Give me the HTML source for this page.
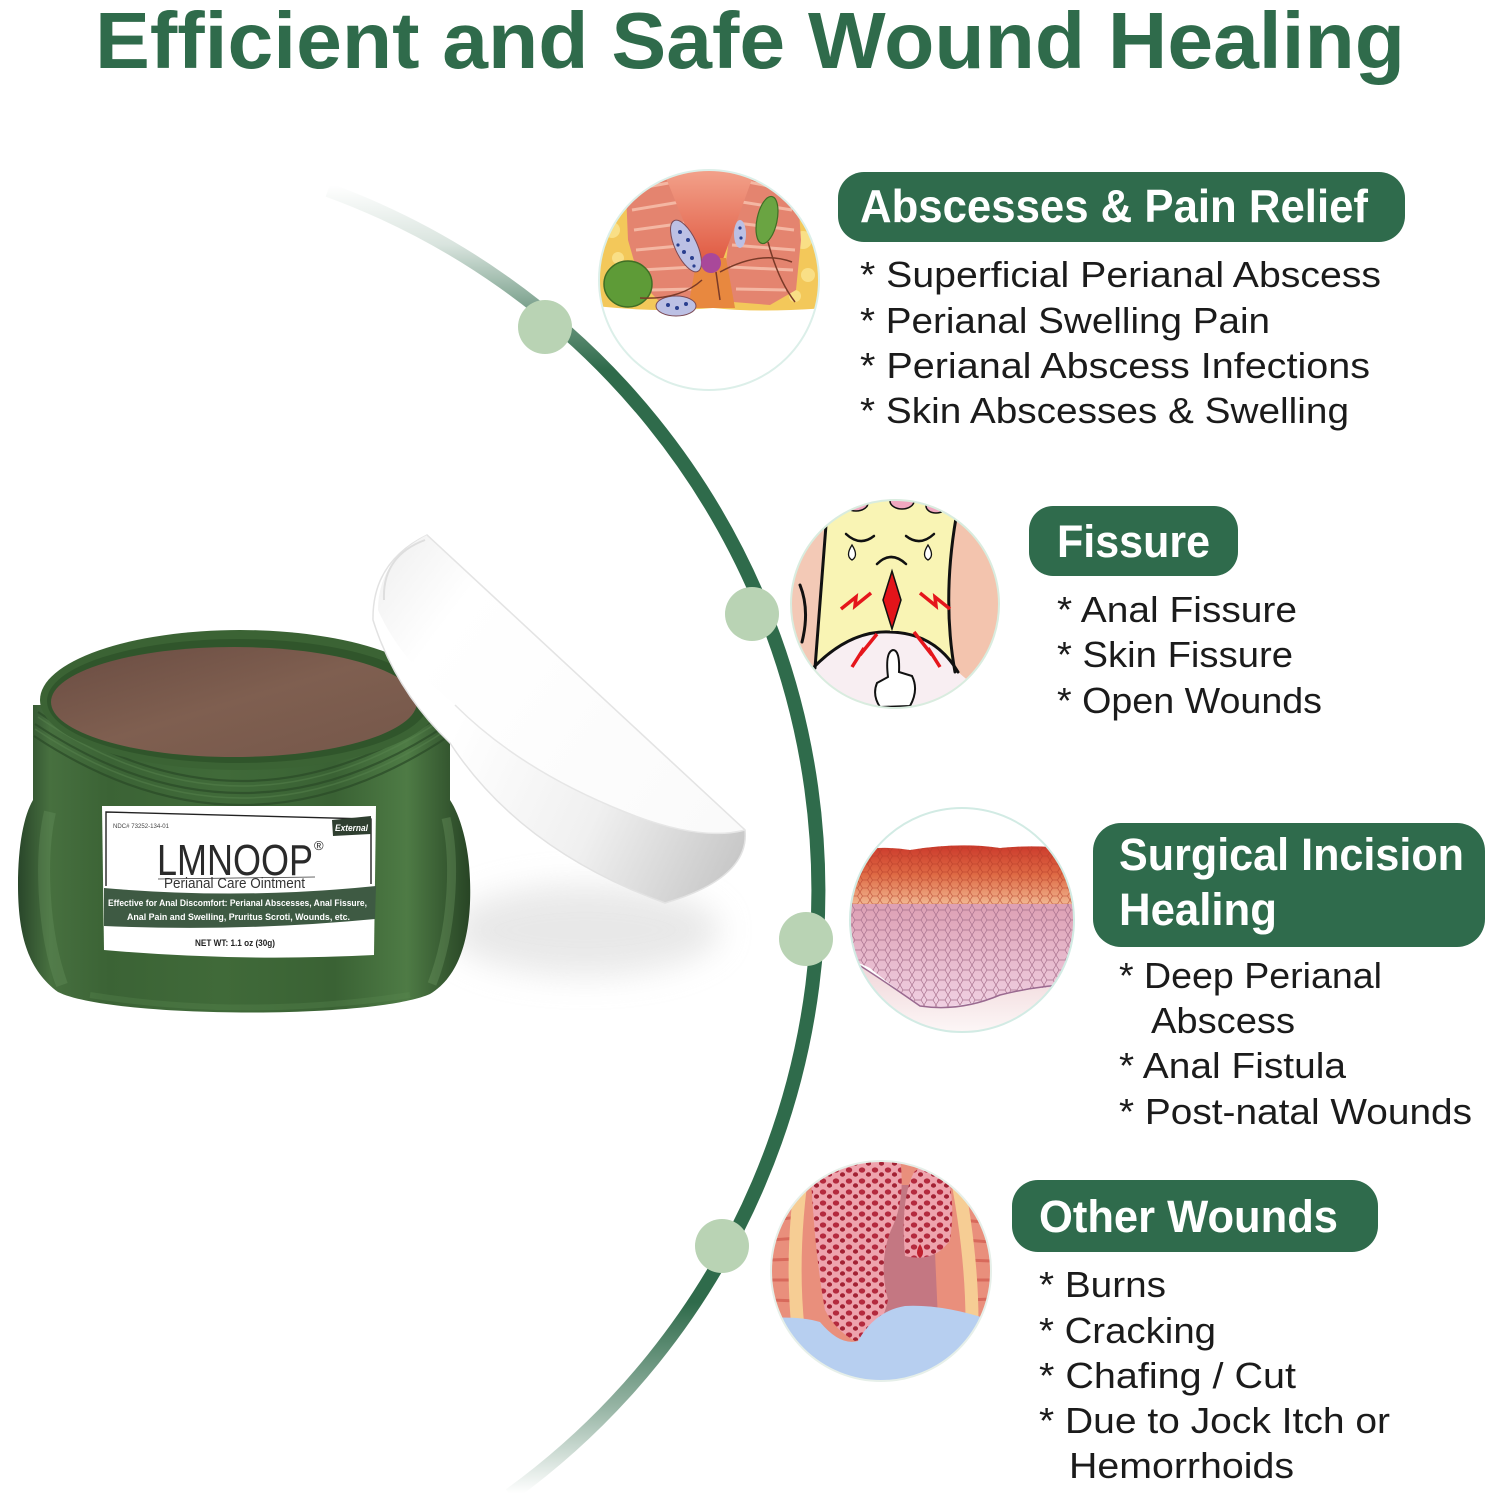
<!DOCTYPE html>
<html>
<head>
<meta charset="utf-8">
<style>
html,body{margin:0;padding:0;background:#fff;}
svg{display:block;}
text{font-family:"Liberation Sans",Arial,sans-serif;}
</style>
</head>
<body>
<svg xmlns="http://www.w3.org/2000/svg" width="1491" height="1500" viewBox="0 0 1491 1500">
<defs>
  <linearGradient id="arcG" gradientUnits="userSpaceOnUse" x1="0" y1="185" x2="0" y2="1500">
    <stop offset="0" stop-color="#2f6b4b" stop-opacity="0"/>
    <stop offset="0.045" stop-color="#2f6b4b" stop-opacity="0.18"/>
    <stop offset="0.10" stop-color="#2f6b4b" stop-opacity="0.7"/>
    <stop offset="0.14" stop-color="#2f6b4b" stop-opacity="1"/>
    <stop offset="0.85" stop-color="#2f6b4b" stop-opacity="1"/>
    <stop offset="0.93" stop-color="#2f6b4b" stop-opacity="0.5"/>
    <stop offset="0.995" stop-color="#2f6b4b" stop-opacity="0"/>
  </linearGradient>
  <linearGradient id="jarG" x1="0" x2="1" y1="0" y2="0">
    <stop offset="0" stop-color="#29462a"/>
    <stop offset="0.07" stop-color="#47703f"/>
    <stop offset="0.2" stop-color="#3b6335"/>
    <stop offset="0.45" stop-color="#406a39"/>
    <stop offset="0.7" stop-color="#3a6234"/>
    <stop offset="0.86" stop-color="#4e7b45"/>
    <stop offset="1" stop-color="#284525"/>
  </linearGradient>
  <linearGradient id="ointG" x1="0" y1="0" x2="1" y2="1">
    <stop offset="0" stop-color="#6a4c42"/>
    <stop offset="0.5" stop-color="#7f5f50"/>
    <stop offset="1" stop-color="#75574a"/>
  </linearGradient>
  <linearGradient id="lidBand" gradientUnits="userSpaceOnUse" x1="450" y1="740" x2="745" y2="880">
    <stop offset="0" stop-color="#ffffff"/>
    <stop offset="0.5" stop-color="#f0f0f0"/>
    <stop offset="1" stop-color="#c4c4c4"/>
  </linearGradient>
  <linearGradient id="lidFace" gradientUnits="userSpaceOnUse" x1="380" y1="560" x2="740" y2="830">
    <stop offset="0" stop-color="#f1f1f1"/>
    <stop offset="0.2" stop-color="#ffffff"/>
    <stop offset="1" stop-color="#fafafa"/>
  </linearGradient>
  <linearGradient id="coneG" x1="0" y1="0" x2="0" y2="1">
    <stop offset="0" stop-color="#f3a38c"/>
    <stop offset="1" stop-color="#e05a42"/>
  </linearGradient>
  <linearGradient id="redG" x1="0" y1="0" x2="0" y2="1">
    <stop offset="0" stop-color="#cc3a2c"/>
    <stop offset="0.5" stop-color="#de6a44"/>
    <stop offset="1" stop-color="#f1b690"/>
  </linearGradient>
  <linearGradient id="pinkG" x1="0" y1="0" x2="0" y2="1">
    <stop offset="0" stop-color="#dc9db1"/>
    <stop offset="1" stop-color="#f0d0e2"/>
  </linearGradient>
  <linearGradient id="skinB" x1="0" y1="0" x2="0" y2="1">
    <stop offset="0" stop-color="#efd3d6"/>
    <stop offset="1" stop-color="#fdf8f8"/>
  </linearGradient>
  <pattern id="cells" width="12" height="10" patternUnits="userSpaceOnUse">
    <path d="M0,5 L3,0 L9,0 L12,5 L9,10 L3,10 Z" fill="none" stroke="#a66f8c" stroke-width="0.7"/>
  </pattern>
  <pattern id="cellsR" width="10" height="8" patternUnits="userSpaceOnUse">
    <path d="M0,4 L2.5,0 L7.5,0 L10,4 L7.5,8 L2.5,8 Z" fill="none" stroke="#b23a28" stroke-width="0.8"/>
  </pattern>
  <pattern id="pores" width="13" height="11" patternUnits="userSpaceOnUse">
    <rect width="13" height="11" fill="#eea3ad"/>
    <ellipse cx="4" cy="4" rx="3.2" ry="2.6" fill="#b42a3e"/>
    <ellipse cx="10.5" cy="8.5" rx="2.6" ry="2.2" fill="#a32234"/>
  </pattern>
  <clipPath id="c1"><circle cx="709" cy="280" r="110"/></clipPath>
  <clipPath id="c2"><circle cx="895" cy="604" r="104"/></clipPath>
  <clipPath id="c3"><circle cx="962" cy="920" r="112"/></clipPath>
  <clipPath id="c4"><circle cx="881" cy="1271" r="110"/></clipPath>
  <filter id="blur" x="-50%" y="-50%" width="200%" height="200%"><feGaussianBlur stdDeviation="16"/></filter>
</defs>

<rect width="1491" height="1500" fill="#ffffff"/>

<!-- Title -->
<text x="95" y="68" font-size="80" font-weight="bold" fill="#2f6b4b" textLength="1310" lengthAdjust="spacingAndGlyphs">Efficient and Safe Wound Healing</text>

<!-- Arc -->
<path d="M328,190 A746,746 0 0 1 510,1495" fill="none" stroke="url(#arcG)" stroke-width="14"/>

<!-- Dots -->
<circle cx="545" cy="327" r="27" fill="#b9d3b4"/>
<circle cx="752" cy="614" r="27" fill="#b9d3b4"/>
<circle cx="806" cy="939" r="27" fill="#b9d3b4"/>
<circle cx="722" cy="1246" r="27" fill="#b9d3b4"/>

<!-- Illustration 1 -->
<g clip-path="url(#c1)">
  <rect x="595" y="165" width="230" height="230" fill="#ffffff"/>
  <path d="M595,165 H825 V308 Q760,313 713,308 Q660,313 595,306 Z" fill="#f3c85a"/>
  <circle cx="612" cy="230" r="8" fill="#f9df86"/>
  <circle cx="618" cy="258" r="6" fill="#f9df86"/>
  <circle cx="608" cy="200" r="5" fill="#f9df86"/>
  <circle cx="803" cy="240" r="9" fill="#f9df86"/>
  <circle cx="808" cy="275" r="7" fill="#f9df86"/>
  <circle cx="795" cy="296" r="6" fill="#f9df86"/>
  <path d="M625,168 L682,168 L702,262 L696,302 L660,302 L640,282 L628,240 Z" fill="#e4846f"/>
  <g stroke="#f4b7a3" stroke-width="3" fill="none">
    <path d="M630,190 L674,182"/><path d="M632,210 L680,202"/><path d="M634,230 L685,223"/>
    <path d="M636,250 L690,245"/><path d="M641,270 L694,267"/><path d="M650,290 L694,289"/>
  </g>
  <path d="M738,168 L796,168 L801,240 L796,290 L770,305 L733,302 L726,262 Z" fill="#e4846f"/>
  <g stroke="#f4b7a3" stroke-width="3" fill="none">
    <path d="M790,190 L748,182"/><path d="M792,210 L742,202"/><path d="M794,230 L737,223"/>
    <path d="M795,250 L732,245"/><path d="M793,270 L730,267"/><path d="M786,290 L736,289"/>
  </g>
  <path d="M662,168 L756,168 L722,262 L700,262 Z" fill="url(#coneG)"/>
  <path d="M697,258 L726,258 L735,308 L688,308 Z" fill="#e8883f"/>
  <ellipse cx="686" cy="246" rx="11" ry="28" transform="rotate(-25 686 246)" fill="#bcc0e4" stroke="#7b4a55" stroke-width="1"/>
  <g fill="#2a3f8f">
    <circle cx="680" cy="232" r="2"/><circle cx="688" cy="240" r="2"/><circle cx="684" cy="252" r="2"/>
    <circle cx="692" cy="258" r="2"/><circle cx="678" cy="245" r="1.6"/><circle cx="694" cy="266" r="1.6"/>
  </g>
  <ellipse cx="676" cy="306" rx="20" ry="10" fill="#bcc0e4" stroke="#7b4a55" stroke-width="1"/>
  <g fill="#2a3f8f"><circle cx="668" cy="305" r="2"/><circle cx="677" cy="308" r="2"/><circle cx="686" cy="304" r="2"/></g>
  <ellipse cx="740" cy="234" rx="6" ry="14" fill="#bcc0e4"/>
  <g fill="#2a3f8f"><circle cx="740" cy="228" r="1.6"/><circle cx="741" cy="238" r="1.6"/></g>
  <circle cx="711" cy="263" r="10" fill="#a9489a"/>
  <ellipse cx="628" cy="284" rx="24" ry="23" fill="#5e9b37" stroke="#3f6e25" stroke-width="1.5"/>
  <ellipse cx="767" cy="220" rx="10" ry="24" transform="rotate(12 767 220)" fill="#6aa442" stroke="#3f6e25" stroke-width="1.2"/>
  <g stroke="#7a3a28" stroke-width="1.5" fill="none">
    <path d="M640,298 Q680,300 702,280"/><path d="M768,242 Q778,280 795,302"/>
    <path d="M720,272 Q760,250 792,262"/><path d="M716,272 L720,300"/>
  </g>
</g>
<circle cx="709" cy="280" r="110" fill="none" stroke="#dcefe9" stroke-width="2"/>

<!-- Illustration 2 -->
<g clip-path="url(#c2)">
  <rect x="785" y="495" width="220" height="220" fill="#f9f4b4"/>
  <path d="M785,495 L827,495 Q820,600 815,668 L785,700 Z" fill="#f3c9b6"/>
  <path d="M952,495 L1005,495 L1005,715 L955,672 Q944,600 955,520 Z" fill="#f3c4ae"/>
  <path d="M785,668 L813,668 Q850,632 890,632 Q935,633 958,672 L1005,712 L1005,715 L785,715 Z" fill="#f8eef2"/>
  <g stroke="#111" stroke-width="3" fill="none" stroke-linecap="round">
    <path d="M827,512 Q820,600 815,668"/>
    <path d="M800,585 Q810,610 802,642"/>
    <path d="M956,518 Q942,600 955,672"/>
    <path d="M978,534 Q999,560 1002,598"/>
    <path d="M813,668 Q850,630 890,632 Q935,633 958,672"/>
  </g>
  <g stroke="#111" stroke-width="2.5" fill="none" stroke-linecap="round">
    <path d="M846,534 Q860,547 874,536"/>
    <path d="M906,536 Q920,547 934,534"/>
    <path d="M877,564 Q891,550 906,564"/>
  </g>
  <path d="M852,545 Q845,556 852,560 Q859,556 852,545 Z" fill="#fff" stroke="#111" stroke-width="1.3"/>
  <path d="M928,545 Q921,556 928,560 Q935,556 928,545 Z" fill="#fff" stroke="#111" stroke-width="1.3"/>
  <ellipse cx="856" cy="503" rx="12" ry="8" fill="#f0a8c0" stroke="#111" stroke-width="1.5"/>
  <ellipse cx="902" cy="501" rx="12" ry="8" fill="#f0a8c0" stroke="#111" stroke-width="1.5"/>
  <ellipse cx="936" cy="506" rx="10" ry="7" fill="#f0a8c0" stroke="#111" stroke-width="1.5"/>
  <path d="M892,571 L901,600 L892,629 L883,600 Z" fill="#e3141a" stroke="#111" stroke-width="1.5"/>
  <g stroke="#e5161c" stroke-width="3.5" fill="none" stroke-linejoin="miter">
    <path d="M841,609 L856,597 L855,606 L871,593"/>
    <path d="M950,609 L935,597 L936,606 L920,593"/>
    <path d="M852,667 L864,648 L860,655 L877,634"/>
    <path d="M940,667 L928,648 L932,655 L914,632"/>
  </g>
  <path d="M888,677 Q885,652 893,650 Q900,650 899,672 L912,676 Q919,690 910,706 L880,707 Q872,695 877,683 Z" fill="#fff" stroke="#111" stroke-width="2"/>
</g>
<circle cx="895" cy="604" r="104" fill="none" stroke="#d9ecdf" stroke-width="2"/>

<!-- Illustration 3 -->
<g clip-path="url(#c3)">
  <rect x="848" y="806" width="230" height="230" fill="#ffffff"/>
  <path d="M848,958 Q880,978 920,1006 Q960,1012 1000,995 Q1040,985 1078,984 L1078,1036 L848,1036 Z" fill="url(#skinB)"/>
  <path d="M848,898 L1078,898 L1078,986 Q1035,986 998,996 Q955,1010 921,1006 Q890,985 870,968 L848,958 Z" fill="url(#pinkG)"/>
  <path d="M848,898 L1078,898 L1078,986 Q1035,986 998,996 Q955,1010 921,1006 Q890,985 870,968 L848,958 Z" fill="url(#cells)"/>
  <path d="M848,958 Q880,978 920,1006 Q960,1012 1000,995 Q1040,985 1078,984" fill="none" stroke="#9a6a90" stroke-width="1.5"/>
  <path d="M848,852 Q880,845 910,850 Q960,842 1000,848 Q1040,844 1078,850 L1078,904 L848,904 Z" fill="url(#redG)"/>
  <path d="M848,852 Q880,845 910,850 Q960,842 1000,848 Q1040,844 1078,850 L1078,904 L848,904 Z" fill="url(#cellsR)" opacity="0.6"/>
</g>
<circle cx="962" cy="920" r="112" fill="none" stroke="#d2ebe4" stroke-width="2"/>

<!-- Illustration 4 -->
<g clip-path="url(#c4)">
  <rect x="768" y="1158" width="228" height="228" fill="#e98f7c"/>
  <g stroke="#d8695b" stroke-width="3">
    <path d="M771,1200 L800,1196"/><path d="M771,1220 L800,1217"/><path d="M771,1240 L799,1238"/>
    <path d="M771,1260 L798,1259"/><path d="M771,1280 L798,1280"/><path d="M771,1300 L798,1301"/>
    <path d="M962,1200 L991,1204"/><path d="M963,1220 L991,1223"/><path d="M965,1240 L991,1242"/>
    <path d="M966,1260 L991,1261"/><path d="M967,1280 L991,1280"/><path d="M967,1300 L991,1299"/>
  </g>
  <path d="M804,1160 Q790,1250 798,1328" stroke="#f6cd94" stroke-width="13" fill="none"/>
  <path d="M954,1162 Q972,1250 972,1322" stroke="#f6cd94" stroke-width="13" fill="none"/>
  <path d="M880,1185 L932,1185 L938,1320 L880,1320 Z" fill="#c47782"/>
  <path d="M810,1158 L900,1158 Q906,1200 891,1230 Q878,1262 888,1300 Q880,1336 855,1341 Q835,1330 825,1310 Q814,1250 810,1158 Z" fill="url(#pores)"/>
  <path d="M905,1256 Q900,1200 914,1172 Q930,1158 946,1172 Q956,1200 950,1240 Q935,1263 905,1256 Z" fill="url(#pores)"/>
  <path d="M920,1244 Q914,1254 920,1258 Q926,1254 920,1244 Z" fill="#c0202e"/>
  <ellipse cx="922" cy="1312" rx="3" ry="6" fill="#c0202e"/>
  <path d="M766,1318 Q800,1316 820,1322 Q840,1346 858,1341 Q875,1311 905,1306 Q945,1304 996,1322 L996,1390 L766,1390 Z" fill="#b7cff0"/>
</g>
<circle cx="881" cy="1271" r="110" fill="none" stroke="#e6efe9" stroke-width="2"/>

<!-- Badges -->
<rect x="838" y="172" width="567" height="70" rx="26" fill="#2f6b4c"/>
<text x="860" y="222" font-size="46" font-weight="bold" fill="#ffffff" textLength="508" lengthAdjust="spacingAndGlyphs">Abscesses &amp; Pain Relief</text>

<rect x="1029" y="506" width="209" height="70" rx="24" fill="#2f6b4c"/>
<text x="1057" y="557" font-size="45" font-weight="bold" fill="#ffffff" textLength="153" lengthAdjust="spacingAndGlyphs">Fissure</text>

<rect x="1093" y="823" width="392" height="124" rx="28" fill="#2f6b4c"/>
<text x="1119" y="870" font-size="45" font-weight="bold" fill="#ffffff" textLength="345" lengthAdjust="spacingAndGlyphs">Surgical Incision</text>
<text x="1119" y="925" font-size="45" font-weight="bold" fill="#ffffff" textLength="158" lengthAdjust="spacingAndGlyphs">Healing</text>

<rect x="1012" y="1180" width="366" height="72" rx="26" fill="#2f6b4c"/>
<text x="1039" y="1232" font-size="45" font-weight="bold" fill="#ffffff" textLength="299" lengthAdjust="spacingAndGlyphs">Other Wounds</text>

<!-- Lists -->
<g font-size="36" fill="#1b1b1b">
  <text x="860" y="287" textLength="521" lengthAdjust="spacingAndGlyphs">* Superficial Perianal Abscess</text>
  <text x="860" y="333" textLength="410" lengthAdjust="spacingAndGlyphs">* Perianal Swelling Pain</text>
  <text x="860" y="378" textLength="510" lengthAdjust="spacingAndGlyphs">* Perianal Abscess Infections</text>
  <text x="860" y="423" textLength="489" lengthAdjust="spacingAndGlyphs">* Skin Abscesses &amp; Swelling</text>

  <text x="1057" y="622" textLength="240" lengthAdjust="spacingAndGlyphs">* Anal Fissure</text>
  <text x="1057" y="667" textLength="236" lengthAdjust="spacingAndGlyphs">* Skin Fissure</text>
  <text x="1057" y="713" textLength="265" lengthAdjust="spacingAndGlyphs">* Open Wounds</text>

  <text x="1119" y="988" textLength="263" lengthAdjust="spacingAndGlyphs">* Deep Perianal</text>
  <text x="1151" y="1033" textLength="144" lengthAdjust="spacingAndGlyphs">Abscess</text>
  <text x="1119" y="1078" textLength="227" lengthAdjust="spacingAndGlyphs">* Anal Fistula</text>
  <text x="1119" y="1124" textLength="353" lengthAdjust="spacingAndGlyphs">* Post-natal Wounds</text>

  <text x="1039" y="1297" textLength="127" lengthAdjust="spacingAndGlyphs">* Burns</text>
  <text x="1039" y="1343" textLength="177" lengthAdjust="spacingAndGlyphs">* Cracking</text>
  <text x="1039" y="1388" textLength="257" lengthAdjust="spacingAndGlyphs">* Chafing / Cut</text>
  <text x="1039" y="1433" textLength="351" lengthAdjust="spacingAndGlyphs">* Due to Jock Itch or</text>
  <text x="1069" y="1478" textLength="225" lengthAdjust="spacingAndGlyphs">Hemorrhoids</text>
</g>

<!-- Product: shadow -->
<ellipse cx="585" cy="930" rx="135" ry="45" fill="#d6d6d6" opacity="0.55" filter="url(#blur)"/>

<!-- Jar -->
<g>
  <path d="M33,705 L33,800 C24,815 18,845 18,885 C18,935 28,970 58,992 C110,1018 370,1020 430,994 C462,975 472,930 470,880 C469,845 460,815 450,800 L450,705 Z" fill="url(#jarG)"/>
  <g fill="none" stroke="#2a4a27" stroke-width="2.2" opacity="0.7">
    <path d="M38,712 Q242,850 446,712"/>
    <path d="M35,724 Q242,862 448,724"/>
    <path d="M34,736 Q242,874 449,736"/>
  </g>
  <g fill="none" stroke="#5a8650" stroke-width="1.5" opacity="0.45">
    <path d="M38,717 Q242,855 446,717"/>
    <path d="M35,729 Q242,867 448,729"/>
  </g>
  <path d="M50,812 C40,855 42,930 62,985" stroke="#6d9962" stroke-width="12" opacity="0.3" fill="none"/>
  <path d="M446,818 C456,860 453,930 432,984" stroke="#7aa56e" stroke-width="9" opacity="0.3" fill="none"/>
  <path d="M90,995 Q246,1020 410,995" stroke="#5d8a52" stroke-width="6" opacity="0.3" fill="none"/>
  <ellipse cx="240" cy="700" rx="200" ry="70" fill="#3b6334"/>
  <ellipse cx="238" cy="701" rx="191" ry="62" fill="#30552b"/>
  <ellipse cx="234" cy="702" rx="183" ry="55" fill="url(#ointG)"/>

  <!-- Label -->
  <path d="M102,806 L376,806 L374,955 Q240,962 104,950 Z" fill="#ffffff"/>
  <path d="M106,886 L106,812 L371,819 L371,884" fill="none" stroke="#222" stroke-width="1.4"/>
  <path d="M158,879 L315,877" stroke="#333" stroke-width="0.8"/>
  <path d="M104,888 Q240,900 376,886 L375,919 Q240,932 104,926 Z" fill="#3e5a43"/>
  <text x="113" y="828" font-size="6.5" fill="#444" textLength="56" lengthAdjust="spacingAndGlyphs">NDC# 73252-134-01</text>
  <path d="M332,820 L371,816 L371,834 L333,836 Z" fill="#2f3f30"/>
  <text x="335" y="831" font-size="9" font-weight="bold" font-style="italic" fill="#ffffff" textLength="33" lengthAdjust="spacingAndGlyphs">External</text>
  <text x="157" y="875" font-size="44" fill="#2a2a2a" textLength="156" lengthAdjust="spacingAndGlyphs">LMNOOP</text>
  <text x="314" y="850" font-size="13" fill="#2a2a2a">®</text>
  <text x="164" y="888" font-size="14.5" fill="#333" textLength="141" lengthAdjust="spacingAndGlyphs">Perianal Care Ointment</text>
  <text x="108" y="906" font-size="9.5" font-weight="bold" fill="#ffffff" textLength="259" lengthAdjust="spacingAndGlyphs">Effective for Anal Discomfort: Perianal Abscesses, Anal Fissure,</text>
  <text x="127" y="920" font-size="9.5" font-weight="bold" fill="#ffffff" textLength="223" lengthAdjust="spacingAndGlyphs">Anal Pain and Swelling, Pruritus Scroti, Wounds, etc.</text>
  <text x="195" y="946" font-size="9" font-weight="bold" fill="#222" textLength="80" lengthAdjust="spacingAndGlyphs">NET WT: 1.1 oz (30g)</text>
</g>

<!-- Lid (leaning on jar) -->
<g>
  <path d="M427,535 L745,830 Q750,878 665,903 Q520,850 450,743 Q395,690 373,620 Q372,562 427,535 Z" fill="url(#lidBand)" stroke="#e2e2e2" stroke-width="1.5"/>
  <path d="M427,535 L745,830 Q700,842 625,812 Q520,770 455,705 Q400,660 378,610 Q378,560 427,535 Z" fill="url(#lidFace)"/>
  <path d="M427,535 L745,830" fill="none" stroke="#e4e4e4" stroke-width="1.5"/>
  <path d="M384,600 Q382,556 425,540" fill="none" stroke="#dedede" stroke-width="2"/>
  <path d="M745,830 Q700,842 625,812 Q520,770 455,705" fill="none" stroke="#e6e6e6" stroke-width="1.5"/>
</g>
</svg>
</body>
</html>
